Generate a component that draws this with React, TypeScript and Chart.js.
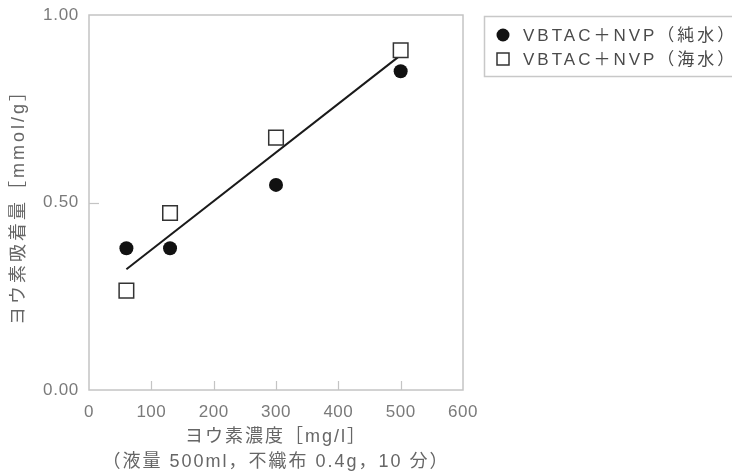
import React, { useEffect, useRef } from "react";
import { Chart, registerables } from "chart.js";

Chart.register(...registerables);

// Data
const concentration = [60, 130, 300, 500];
const pureWater = [0.378, 0.378, 0.547, 0.85];
const seaWater = [0.265, 0.472, 0.673, 0.906];
const fitX = [60, 500];
const fitY = [0.322, 0.893];
const legendLabels = ["VBTAC＋NVP（純水）", "VBTAC＋NVP（海水）"];
const xTitle = ["ヨウ素濃度［mg/l］", "（液量 500ml，不織布 0.4g，10 分）"];
const yTitle = "ヨウ素吸着量［mmol/g］";
const xRange = [0, 600];
const yRange = [0, 1];

const FONT = '"Liberation Sans", "Noto Sans CJK JP", sans-serif';

const spacing: Record<string, { title: string; labels: string }> = {
  x: { title: "2px", labels: "0.5px" },
  y: { title: "3px", labels: "0.7px" },
};

function withSpacing(fn: any, ls: string) {
  return function (this: any, ...args: any[]) {
    const c = this.ctx;
    const prev = c.letterSpacing;
    c.letterSpacing = ls;
    fn.apply(this, args);
    c.letterSpacing = prev || "0px";
  };
}

const framePlugin = {
  id: "frame",
  beforeDraw(chart: any) {
    ["x", "y"].forEach((id) => {
      const s = chart.scales[id];
      if (s && !s.__lsPatched) {
        s.drawTitle = withSpacing(s.drawTitle, spacing[id].title);
        s.drawLabels = withSpacing(s.drawLabels, spacing[id].labels);
        s.__lsPatched = true;
      }
    });
  },
  beforeDatasetsDraw(chart: any) {
    const { ctx, chartArea: a, scales } = chart;
    ctx.save();
    ctx.strokeStyle = "#c4c4c4";
    ctx.lineWidth = 1.5;
    ctx.strokeRect(a.left, a.top, a.right - a.left, a.bottom - a.top);
    ctx.lineWidth = 1.2;
    const xs = scales.x;
    xs.ticks.forEach((t: any) => {
      if (t.value <= xRange[0] || t.value >= xRange[1]) return;
      const px = Math.round(xs.getPixelForValue(t.value)) + 0.5;
      ctx.beginPath();
      ctx.moveTo(px, a.bottom);
      ctx.lineTo(px, a.bottom - 9);
      ctx.stroke();
    });
    const ys = scales.y;
    ys.ticks.forEach((t: any) => {
      if (t.value <= yRange[0] || t.value >= yRange[1]) return;
      const py = Math.round(ys.getPixelForValue(t.value)) + 0.5;
      ctx.beginPath();
      ctx.moveTo(a.left, py);
      ctx.lineTo(a.left + 10, py);
      ctx.stroke();
    });
    ctx.restore();
  },
  afterDraw(chart: any) {
    const ctx = chart.ctx;
    ctx.save();
    ctx.letterSpacing = "3px";
    ctx.strokeStyle = "#c8c8c8";
    ctx.lineWidth = 1.5;
    ctx.strokeRect(484.5, 16.5, 270, 60);
    const rows = [35, 59];
    ctx.font = "17px " + FONT;
    ctx.textBaseline = "middle";
    ctx.textAlign = "left";
    rows.forEach((y, i) => {
      if (i === 0) {
        ctx.fillStyle = "#111";
        ctx.beginPath();
        ctx.arc(503, y, 6.5, 0, Math.PI * 2);
        ctx.fill();
      } else {
        ctx.fillStyle = "#fff";
        ctx.strokeStyle = "#333";
        ctx.lineWidth = 1.5;
        ctx.fillRect(497, y - 6, 12, 12);
        ctx.strokeRect(497, y - 6, 12, 12);
      }
      ctx.fillStyle = "#4a4a4a";
      ctx.fillText(legendLabels[i], 523, y + 1);
    });
    ctx.restore();
  },
};

export default function App() {
  const ref = useRef<HTMLCanvasElement | null>(null);
  useEffect(() => {
    document.body.style.margin = "0";
    const canvas = ref.current!;
    const chart = new Chart(canvas, {
      type: "scatter",
      data: {
        datasets: [
          {
            label: legendLabels[0],
            data: concentration.map((x, i) => ({ x, y: pureWater[i] })),
            pointStyle: "circle",
            pointRadius: 7,
            backgroundColor: "#111",
            borderColor: "#111",
            borderWidth: 0,
          },
          {
            label: legendLabels[1],
            data: concentration.map((x, i) => ({ x, y: seaWater[i] })),
            pointStyle: "rect",
            pointRadius: 10.3,
            backgroundColor: "#fff",
            borderColor: "#333",
            borderWidth: 1.5,
          },
          {
            label: "fit",
            data: fitX.map((x, i) => ({ x, y: fitY[i] })),
            showLine: true,
            pointRadius: 0,
            borderColor: "#1a1a1a",
            borderWidth: 2,
          },
        ],
      },
      options: {
        responsive: false,
        animation: false,
        layout: { padding: { top: 15, right: 269, left: 0, bottom: 0 } },
        plugins: { legend: { display: false }, tooltip: { enabled: false } },
        scales: {
          x: {
            type: "linear",
            min: xRange[0],
            max: xRange[1],
            grid: { display: false },
            border: { display: false },
            ticks: {
              stepSize: 100,
              padding: 4,
              color: "#7a7a7a",
              font: { size: 17, family: FONT },
              maxRotation: 0,
            },
            title: {
              display: true,
              text: xTitle,
              color: "#666",
              font: { size: 18, family: FONT, lineHeight: 1.4 },
              padding: { top: 0, bottom: 0 },
            },
            afterFit(scale: any) {
              scale.height = 85;
            },
          },
          y: {
            type: "linear",
            min: yRange[0],
            max: yRange[1],
            grid: { display: false },
            border: { display: false },
            ticks: {
              stepSize: 0.5,
              padding: 2,
              color: "#7a7a7a",
              font: { size: 17, family: FONT },
              callback: (v: any) => Number(v).toFixed(2),
            },
            title: {
              display: true,
              text: yTitle,
              color: "#666",
              font: { size: 18, family: FONT },
              padding: { top: 8, bottom: 0 },
            },
            afterFit(scale: any) {
              scale.width = 89;
            },
          },
        },
      },
      plugins: [framePlugin],
    });
    return () => chart.destroy();
  }, []);
  return <canvas ref={ref} width={732} height={475} style={{ display: "block" }} />;
}
